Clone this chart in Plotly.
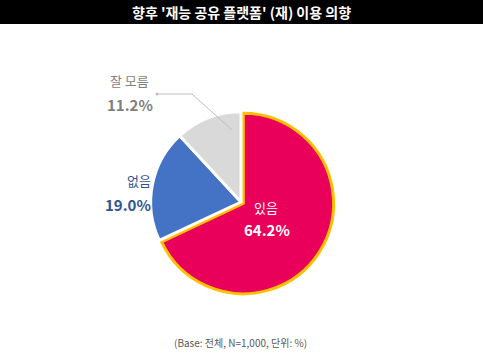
import plotly.graph_objects as go

categories = ["있음", "없음", "잘 모름"]
values = [64.2, 19.0, 11.2]
colors = ["#E8005A", "#4472C4", "#D9D9D9"]
line_colors = ["#FFC000", "#FFFFFF", "#FFFFFF"]
title_text = "향후 '재능 공유 플랫폼' (재) 이용 의향"
footnote = "(Base: 전체, N=1,000, 단위: %)"

W, H = 483, 353
FONT = "Noto Sans CJK KR"

def px(x):
    return x / W

def py(y):
    return 1 - y / H

fig = go.Figure()
fig.add_trace(go.Pie(
    labels=categories,
    values=values,
    sort=False,
    direction="clockwise",
    rotation=0,
    pull=[0.03, 0, 0],
    marker=dict(colors=colors, line=dict(color=line_colors, width=[3, 3, 3])),
    textinfo="none",
    hoverinfo="label+value",
    showlegend=False,
    domain=dict(x=[px(241 - 93), px(241 + 93)], y=[py(202 + 93), py(202 - 93)]),
))

shapes = [
    dict(type="rect", xref="paper", yref="paper", x0=0, x1=1, y0=py(24), y1=1,
         fillcolor="black", line=dict(width=0), layer="below"),
    dict(type="line", xref="paper", yref="paper", x0=px(157), y0=py(94), x1=px(192), y1=py(94),
         line=dict(color="#BFBFBF", width=1)),
    dict(type="line", xref="paper", yref="paper", x0=px(192), y0=py(94), x1=px(232), y1=py(130),
         line=dict(color="#BFBFBF", width=1)),
    dict(type="circle", xref="paper", yref="paper", x0=px(155.5), y0=py(95.5), x1=px(158.5), y1=py(92.5),
         fillcolor="#BFBFBF", line=dict(width=0)),
]

label_pos = {
    "있음": dict(name=(266, 207), val=(267, 229), color="white", anchor="center"),
    "없음": dict(name=(153, 181), val=(153, 204.5), color="#2F5597", anchor="right"),
    "잘 모름": dict(name=(129, 81), val=(129.5, 104.5), color="#7F7F7F", anchor="center"),
}

annotations = [
    dict(text=f"<b>{title_text}</b>", x=0.5, y=py(12), xref="paper", yref="paper",
         showarrow=False, font=dict(family=FONT, size=14, color="white"), xanchor="center", yanchor="middle"),
    dict(text=footnote, x=px(240), y=py(342), xref="paper", yref="paper",
         showarrow=False, font=dict(family=FONT, size=10, color="#595959"), xanchor="center", yanchor="middle"),
]
for cat, v in zip(categories, values):
    p = label_pos[cat]
    annotations.append(dict(text=cat, x=px(p["name"][0]), y=py(p["name"][1]), xref="paper", yref="paper",
                            showarrow=False, xanchor=p["anchor"], yanchor="middle",
                            font=dict(family=FONT, size=13, color=p["color"])))
    annotations.append(dict(text=f"<b>{v:.1f}%</b>", x=px(p["val"][0]), y=py(p["val"][1]), xref="paper", yref="paper",
                            showarrow=False, xanchor=p["anchor"], yanchor="middle",
                            font=dict(family=FONT, size=15, color=p["color"])))

fig.update_layout(
    width=W, height=H,
    margin=dict(l=0, r=0, t=0, b=0),
    paper_bgcolor="white", plot_bgcolor="white",
    shapes=shapes, annotations=annotations,
)

fig.write_html("out.html")
